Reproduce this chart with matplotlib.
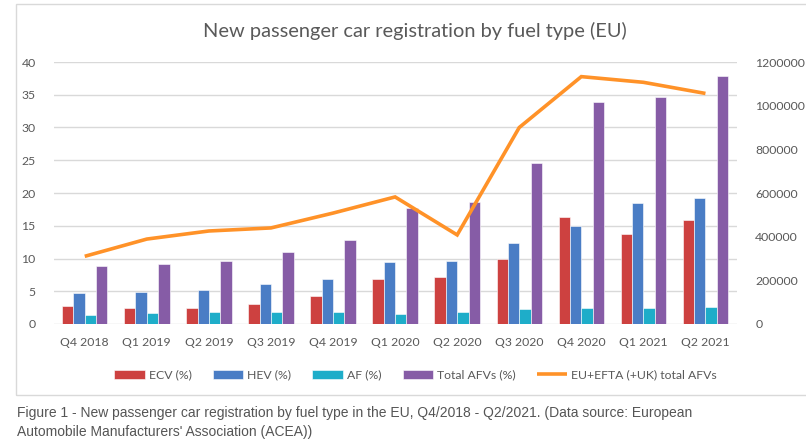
import matplotlib
matplotlib.use("Agg")
import matplotlib.pyplot as plt
import numpy as np
from matplotlib.patches import Rectangle
from matplotlib.ticker import FixedLocator

categories = ["Q4 2018", "Q1 2019", "Q2 2019", "Q3 2019", "Q4 2019", "Q1 2020",
              "Q2 2020", "Q3 2020", "Q4 2020", "Q1 2021", "Q2 2021"]
ecv = [2.7, 2.5, 2.4, 3.0, 4.2, 6.8, 7.2, 9.9, 16.4, 13.8, 15.9]
hev = [4.7, 4.9, 5.2, 6.1, 6.8, 9.4, 9.6, 12.4, 15.0, 18.4, 19.3]
af = [1.4, 1.7, 1.9, 1.8, 1.8, 1.5, 1.9, 2.3, 2.4, 2.4, 2.6]
total_afv = [8.8, 9.1, 9.6, 11.0, 12.9, 17.7, 18.7, 24.6, 33.9, 34.6, 37.8]
eu_total = [310000, 389000, 426000, 440000, 508000, 582000, 408000, 900000,
            1133000, 1107000, 1056000]
left_ticks = [0, 5, 10, 15, 20, 25, 30, 35, 40]
right_ticks = [0, 200000, 400000, 600000, 800000, 1000000, 1200000]

colors = {"ecv": "#CD4140", "hev": "#4A7DC5", "af": "#1EADC9",
          "tot": "#865CA6", "line": "#FF9228"}
font = "Lato"
tick_color = "#595959"
tick_size = 8.8

fig = plt.figure(figsize=(8.06, 4.44), dpi=100)
W, H = 806, 444

# chart frame
fig.patches.append(Rectangle((16 / W, 1 - 395 / H), 1.0, (395 - 4) / H,
                             transform=fig.transFigure, fill=False,
                             edgecolor="#D9D9D9", linewidth=1.0))

ax = fig.add_axes([53.7 / W, 1 - 324 / H, (736.5 - 53.7) / W, (324 - 62) / H])
ax2 = ax.twinx()

x = np.arange(len(categories))
bw = 0.183
series = [(ecv, "ECV (%)", colors["ecv"]), (hev, "HEV (%)", colors["hev"]),
          (af, "AF (%)", colors["af"]), (total_afv, "Total AFVs (%)", colors["tot"])]
handles = []
for i, (vals, lab, col) in enumerate(series):
    b = ax.bar(x + (i - 1.5) * bw, vals, width=bw, color=col, label=lab,
               edgecolor="white", linewidth=0.4, zorder=3)
    handles.append(b)

ln, = ax2.plot(x, eu_total, color=colors["line"], linewidth=2.6,
               solid_capstyle="butt", solid_joinstyle="miter",
               label="EU+EFTA (+UK) total AFVs", zorder=4)
handles.append(ln)

ax.set_xlim(-0.5, len(categories) - 0.5)
ax.set_ylim(0, 40)
ax2.set_ylim(0, 1200000)
ax.yaxis.set_major_locator(FixedLocator(left_ticks))
ax2.yaxis.set_major_locator(FixedLocator(right_ticks))
ax2.set_yticklabels([str(t) for t in right_ticks])
ax.set_yticklabels([str(t) for t in left_ticks])
ax.set_xticks(x)
ax.set_xticklabels(categories)

ax.grid(axis="y", color="#D9D9D9", linewidth=1.0, zorder=0)
ax.set_axisbelow(True)
for a in (ax, ax2):
    for s in a.spines.values():
        s.set_visible(False)
    a.tick_params(length=0, colors=tick_color, labelsize=tick_size)
    for lbl in a.get_xticklabels() + a.get_yticklabels():
        lbl.set_fontfamily(font)
ax.tick_params(axis="y", pad=13)
ax2.tick_params(axis="y", pad=13.5)
ax.tick_params(axis="x", pad=9)
ax.set_zorder(ax2.get_zorder() - 1)
ax.patch.set_visible(False)
ax2.patch.set_visible(False)

fig.text(414.5 / W, 1 - 31 / H,
         "New passenger car registration by fuel type (EU)",
         ha="center", va="center", fontsize=14.4, color="#595959", family=font)

leg = fig.legend(handles=handles, labels=[h.get_label() for h in handles],
                 loc="center", bbox_to_anchor=(415.5 / W, 1 - 375 / H), ncol=5,
                 frameon=False, prop={"family": font, "size": 8.8},
                 handlelength=2.5, handleheight=0.7, handletextpad=0.3,
                 columnspacing=1.75, labelcolor=tick_color)

fig.text(17 / W, 1 - 413 / H,
         "Figure 1 - New passenger car registration by fuel type in the EU, Q4/2018 - Q2/2021. (Data source: European",
         ha="left", va="center", fontsize=10.0, color="#555555", family="Liberation Sans")
fig.text(17 / W, 1 - 432 / H,
         "Automobile Manufacturers' Association (ACEA))",
         ha="left", va="center", fontsize=10.0, color="#555555", family="Liberation Sans")

fig.savefig("out.png", dpi=100)
